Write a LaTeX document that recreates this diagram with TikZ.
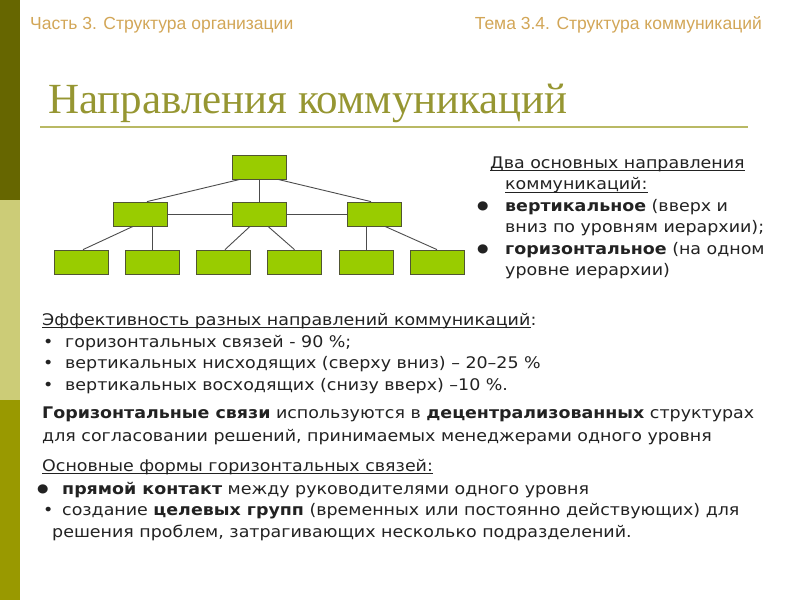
\documentclass[tikz,border=0pt]{standalone}
\usepackage{fontspec}
\setmainfont[FakeStretch=1.09]{DejaVu Sans}
\newfontfamily\headfont{Liberation Sans}
\newfontfamily\titlefont{Liberation Serif}
\definecolor{BarDark}{RGB}{102,102,0}
\definecolor{BarLight}{RGB}{204,204,119}
\definecolor{BarOlive}{RGB}{153,153,0}
\definecolor{HeadTan}{RGB}{210,166,87}
\definecolor{TitleOlive}{RGB}{150,150,50}
\definecolor{RuleOlive}{RGB}{185,185,100}
\definecolor{BoxGreen}{RGB}{153,204,0}
\definecolor{BoxEdge}{RGB}{80,85,50}
\definecolor{TextGray}{RGB}{34,34,34}
\usetikzlibrary{positioning}

\begin{document}
\begin{tikzpicture}[x=1pt, y=-1pt,
      every node/.style={inner sep=0pt, anchor=base west, text=TextGray},
      head/.style={font=\headfont\fontsize{17.5}{19}\selectfont, text=HeadTan},
      body/.style={font=\fontsize{16}{18}\selectfont},
      dot/.style={font=\fontsize{12}{14}\selectfont, yshift=2pt},
      unit/.style={draw=BoxEdge, fill=BoxGreen, line width=0.8pt, anchor=center,
                   minimum width=54pt, minimum height=24pt},
      link/.style={draw=black!70, line width=0.9pt},
      uline/.style={draw=TextGray, line width=0.8pt}
  ]
    \useasboundingbox (0,0) rectangle (800,600);
    % side bar
    \fill[BarDark] (0,0) rectangle (20,200);
    \fill[BarLight] (0,200) rectangle (20,400);
    \fill[BarOlive] (0,400) rectangle (20,600);

    \node[head] (part) at (30,29) {Часть 3. Структура организации};
    \node[head, anchor=base east] (topic) at (762,29) {Тема 3.4. Структура коммуникаций};
    \node[font=\titlefont\fontsize{43}{46}\selectfont, text=TitleOlive] (title) at (48,113) {Направления коммуникаций};
    \draw[RuleOlive, line width=2pt] (40,127) -- (748,127);

    % hierarchy
    \node[unit] (top) at (259,167) {};
    \node[unit] (m1) at (140,214) {};
    \node[unit] (m2) at (259,214) {};
    \node[unit] (m3) at (374.5,214) {};
    \foreach \i/\x in {1/81,2/152,3/223.5,4/294.5,5/366,6/437} {
      \node[unit] (b\i) at (\x,262) {};
    }
    \draw[link] ([xshift=-19pt]top.south) -- ([xshift=7pt]m1.north);
    \draw[link] (top) -- (m2);
    \draw[link] ([xshift=19pt]top.south) -- ([xshift=-3.5pt]m3.north);
    \draw[link] (m1) -- (m2);
    \draw[link] (m2) -- (m3);
    \draw[link] ([xshift=-7pt]m1.south) -- ([xshift=2pt]b1.north);
    \draw[link] (b2.north |- m1.south) -- (b2.north);
    \draw[link] ([xshift=-9pt]m2.south) -- ([xshift=1.5pt]b3.north);
    \draw[link] ([xshift=9pt]m2.south) -- (b4.north);
    \draw[link] (b5.north |- m3.south) -- (b5.north);
    \draw[link] ([xshift=10.5pt]m3.south) -- (b6.north);

    % directions
    \node[body] (dir1) at (490,168) {Два основных направления};
    \node[body] (dir2) at (505,189.5) {коммуникаций:};
    \draw[uline] ([yshift=-2.5pt]dir1.base west) -- ([yshift=-2.5pt]dir1.base east);
    \draw[uline] ([yshift=-2.5pt]dir2.base west) -- ([yshift=-2.5pt]dir2.base east);
    \node[dot] (vdot) at (477,211) {●};
    \node[body] (vert1) at (505,211) {\textbf{вертикальное} (вверх и};
    \node[body] (vert2) at (505,232.5) {вниз по уровням иерархии);};
    \node[dot] (hdot) at (477,254) {●};
    \node[body] (hor1) at (505,254) {\textbf{горизонтальное} (на одном};
    \node[body] (hor2) at (505,275.5) {уровне иерархии)};

    % efficiency
    \node[body] (eff) at (42,325) {Эффективность разных направлений коммуникаций};
    \node[body] (effcolon) at (eff.base east) {:};
    \draw[uline] ([yshift=-2.5pt]eff.base west) -- ([yshift=-2.5pt]eff.base east);
    \foreach \n/\y/\t in {1/347/{горизонтальных связей - 90 \%;},
                          2/368.5/{вертикальных нисходящих (сверху вниз) – 20–25 \%},
                          3/390/{вертикальных восходящих (снизу вверх) –10 \%.}} {
      \node[body] (effdot\n) at (43,\y) {•};
      \node[body] (eff\n) at (65,\y) {\t};
    }

    \node[body] (use1) at (42,418) {\textbf{Горизонтальные связи} используются в \textbf{децентрализованных} структурах};
    \node[body] (use2) at (42,441) {для согласовании решений, принимаемых менеджерами одного уровня};

    \node[body] (form) at (42,471) {Основные формы горизонтальных связей:};
    \draw[uline] ([yshift=-2.5pt]form.base west) -- ([yshift=-2.5pt]form.base east);
    \node[dot] (fdot1) at (37,494) {●};
    \node[body] (form1) at (62,494) {\textbf{прямой контакт} между руководителями одного уровня};
    \node[body] (fdot2) at (43,515.5) {•};
    \node[body] (form2) at (62,515.5) {создание \textbf{целевых групп} (временных или постоянно действующих) для};
    \node[body] (form3) at (52,537) {решения проблем, затрагивающих несколько подразделений.};
  \end{tikzpicture}
\end{document}
